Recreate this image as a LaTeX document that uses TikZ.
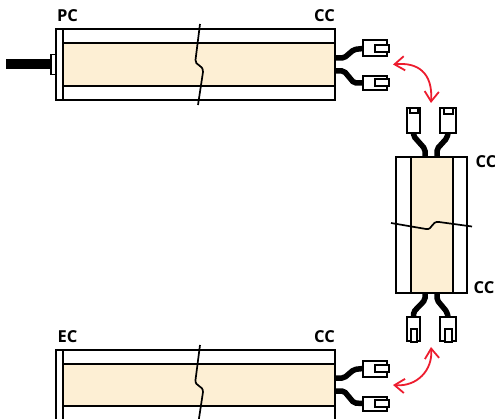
\documentclass[tikz,border=0pt]{standalone}
\usepackage{fontspec}
\setmainfont{Open Sans}
\usepackage{xcolor}
\usepackage{tikz}
\usetikzlibrary{arrows.meta}
\definecolor{bandfill}{HTML}{FDEFD4}
\definecolor{swapred}{HTML}{ED1C2E}

\begin{document}
\begin{tikzpicture}[
    x=1pt,y=-1pt,
    frame/.style={draw=black, fill=white, line width=1.8pt, inner sep=0pt, outer sep=0pt},
    band/.style={draw=black, fill=bandfill, line width=2pt, inner sep=0pt, outer sep=0pt},
    plug/.style={draw=black, fill=white, line width=2pt, inner sep=0pt, outer sep=0pt},
    lead/.style={draw=black, line width=5.5pt, rounded corners=2pt},
    cut/.style={draw=black, line width=1.7pt},
    swap/.style={{Straight Barb[length=3.5mm,width=5mm]}-{Straight Barb[length=3.5mm,width=5mm]}, draw=swapred, line width=1.8pt},
    tag/.style={font=\fontsize{16.5}{16.5}\selectfont\bfseries, inner sep=0pt}
  ]
    \useasboundingbox (0,0) rectangle (495,419);

    % top bar
    \node[frame, minimum width=279pt, minimum height=71pt] (top) at (195.5,64.5) {};
    \node[band, minimum width=272pt, minimum height=43pt] (topband) at (199,64.5) {};
    \node[frame, minimum width=7pt, minimum height=71pt] (topcap) at (59.5,64.5) {};
    \node[frame, minimum width=5pt, minimum height=20pt] (gland) at (53.5,64.5) {};
    \node[inner sep=0pt] (cableend) at (6,64.5) {};
    \draw[draw=black, line width=10pt] (cableend.center) -- (gland.west);
    \draw[cut] (200,24) -- (195.5,60) .. controls (195,66) and (203,64) .. (203,72) -- (198,105);
    \node[tag] (pc) at (67.5,16) {PC};
    \node[tag] (cc1) at (324.5,16) {CC};

    \node[plug, minimum width=24pt, minimum height=16pt] (p1) at (375,48.5) {};
    \node[plug, minimum width=14pt, minimum height=7pt] (t1) at (381.5,48.5) {};
    \node[plug, minimum width=24pt, minimum height=14pt] (p2) at (375,83) {};
    \node[plug, minimum width=14pt, minimum height=7pt] (t2) at (381.5,83) {};
    \draw[lead] (topband.east |- 0,58) -- (344,58) -- (354,49.5) -- (p1.west);
    \draw[lead] (topband.east |- 0,71) -- (344,71) -- (354,83) -- (p2.west);

    % vertical bar
    \node[frame, minimum width=71pt, minimum height=136pt] (mid) at (431.5,225) {};
    \node[band, line width=1.8pt, minimum width=42pt, minimum height=136pt] (midband) at (432,225) {};
    \draw[cut] (391,223) -- (426,229) .. controls (433,230) and (431,221) .. (439,222) -- (472,226.5);
    \node[tag] (cc2) at (486,162) {CC};
    \node[tag] (cc3) at (484,288) {CC};

    \node[plug, minimum width=13pt, minimum height=25pt] (p3) at (413.5,120.5) {};
    \node[plug, minimum width=8pt, minimum height=5pt] (t3) at (413.5,110.5) {};
    \node[plug, minimum width=16pt, minimum height=25pt] (p4) at (448,120.5) {};
    \node[plug, minimum width=9pt, minimum height=6pt] (t4) at (448,111) {};
    \draw[lead] (425,157) -- (425,149) -- (413.5,136) -- (p3.south);
    \draw[lead] (437,157) -- (437,149) -- (447,138) -- (p4.south);

    \node[plug, minimum width=13pt, minimum height=24pt] (p5) at (413.5,329) {};
    \node[plug, minimum width=6pt, minimum height=13pt] (t5) at (413.5,335.5) {};
    \node[plug, minimum width=16pt, minimum height=24pt] (p6) at (448,329) {};
    \node[plug, minimum width=7pt, minimum height=13pt] (t6) at (448,335.5) {};
    \draw[lead] (425,293) -- (425,300) -- (413.5,312) -- (p5.north);
    \draw[lead] (437,293) -- (437,300) -- (447,312) -- (p6.north);

    % bottom bar
    \node[frame, minimum width=279pt, minimum height=80pt] (bot) at (195.5,390) {};
    \node[band, minimum width=272pt, minimum height=42pt] (botband) at (199,385) {};
    \node[frame, minimum width=7pt, minimum height=80pt] (botcap) at (59.5,390) {};
    \draw[cut] (200,345) -- (195.5,380) .. controls (195,387) and (203,385) .. (203,392) -- (198,425);
    \node[tag] (ec) at (67.5,337) {EC};
    \node[tag] (cc4) at (324.5,337) {CC};

    \node[plug, minimum width=24pt, minimum height=16pt] (p7) at (375,368.5) {};
    \node[plug, minimum width=14pt, minimum height=7pt] (t7) at (381.5,368.5) {};
    \node[plug, minimum width=24pt, minimum height=14pt] (p8) at (375,403.5) {};
    \node[plug, minimum width=14pt, minimum height=7pt] (t8) at (381.5,403.5) {};
    \draw[lead] (botband.east |- 0,378) -- (344,378) -- (354,369.5) -- (p7.west);
    \draw[lead] (botband.east |- 0,391) -- (344,391) -- (354,403) -- (p8.west);

    % swap arrows
    \coordinate (a1) at (393,64.5);
    \coordinate (a2) at (431,103);
    \coordinate (a3) at (431,347);
    \coordinate (a4) at (393,385);
    \draw[swap] (a1) .. controls (417,62) and (433,72) .. (a2);
    \draw[swap] (a3) .. controls (433,370) and (417,387) .. (a4);
  \end{tikzpicture}
\end{document}
